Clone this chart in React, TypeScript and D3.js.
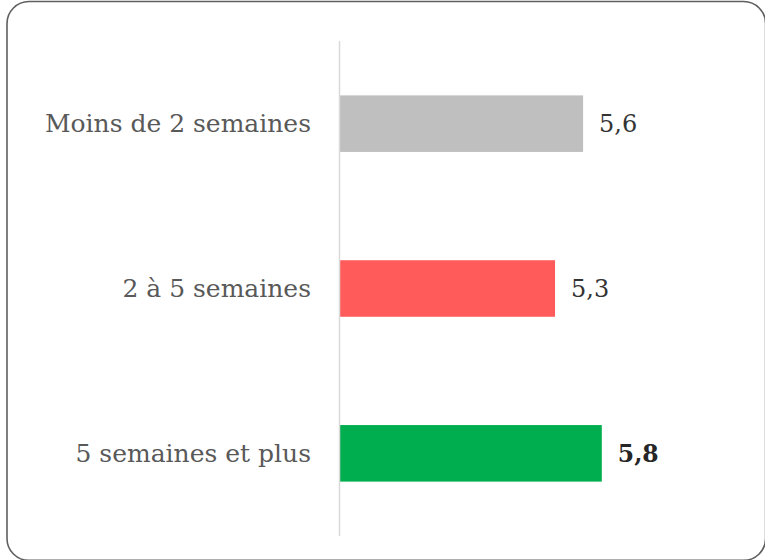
import React, { useEffect, useRef } from "react";
import * as d3 from "d3";

const categories = ["Moins de 2 semaines", "2 à 5 semaines", "5 semaines et plus"];
const values = [5.6, 5.3, 5.8];
const valueLabels = ["5,6", "5,3", "5,8"];
const colors = ["#bfbfbf", "#ff5b5b", "#00ae4f"];
const boldFlags = [false, false, true];

const W = 765;
const H = 560;

export default function App() {
  const ref = useRef<SVGSVGElement | null>(null);

  useEffect(() => {
    const svg = d3.select(ref.current);
    svg.selectAll("*").remove();

    svg
      .append("rect")
      .attr("x", 7)
      .attr("y", 1.5)
      .attr("width", 758.6)
      .attr("height", 558.9)
      .attr("rx", 22)
      .attr("ry", 22)
      .attr("fill", "#ffffff")
      .attr("stroke", "#5f5f5f")
      .attr("stroke-width", 1.6);

    const x = d3.scaleLinear().domain([3, 7]).range([340, 714]);
    const y = d3
      .scaleBand<string>()
      .domain(categories)
      .range([41, 536])
      .paddingInner(0.657)
      .paddingOuter(0.33);

    const font = "'DejaVu Serif', serif";

    svg
      .selectAll("rect.bar")
      .data(values)
      .join("rect")
      .attr("class", "bar")
      .attr("x", x(3))
      .attr("y", (_, i) => y(categories[i])!)
      .attr("width", (d) => x(d) - x(3))
      .attr("height", y.bandwidth())
      .attr("fill", (_, i) => colors[i]);

    svg
      .append("line")
      .attr("x1", 339.5)
      .attr("x2", 339.5)
      .attr("y1", 41)
      .attr("y2", 536)
      .attr("stroke", "#d9d9d9")
      .attr("stroke-width", 1.5);

    svg
      .selectAll("text.cat")
      .data(categories)
      .join("text")
      .attr("class", "cat")
      .attr("x", 311)
      .attr("y", (d) => y(d)! + y.bandwidth() / 2)
      .attr("dy", "0.35em")
      .attr("text-anchor", "end")
      .attr("font-family", font)
      .attr("font-size", 25)
      .attr("fill", "#595959")
      .text((d) => d);

    svg
      .selectAll("text.val")
      .data(values)
      .join("text")
      .attr("class", "val")
      .attr("x", (d) => x(d) + 16)
      .attr("y", (_, i) => y(categories[i])! + y.bandwidth() / 2)
      .attr("dy", "0.35em")
      .attr("font-family", font)
      .attr("font-size", (_, i) => (boldFlags[i] ? 23.5 : 24))
      .attr("font-weight", (_, i) => (boldFlags[i] ? "bold" : "normal"))
      .attr("fill", (_, i) => (boldFlags[i] ? "#262626" : "#333333"))
      .text((_, i) => valueLabels[i]);
  }, []);

  return (
    <svg
      ref={ref}
      width={W}
      height={H}
      style={{ position: "absolute", left: 0, top: 0 }}
    />
  );
}
